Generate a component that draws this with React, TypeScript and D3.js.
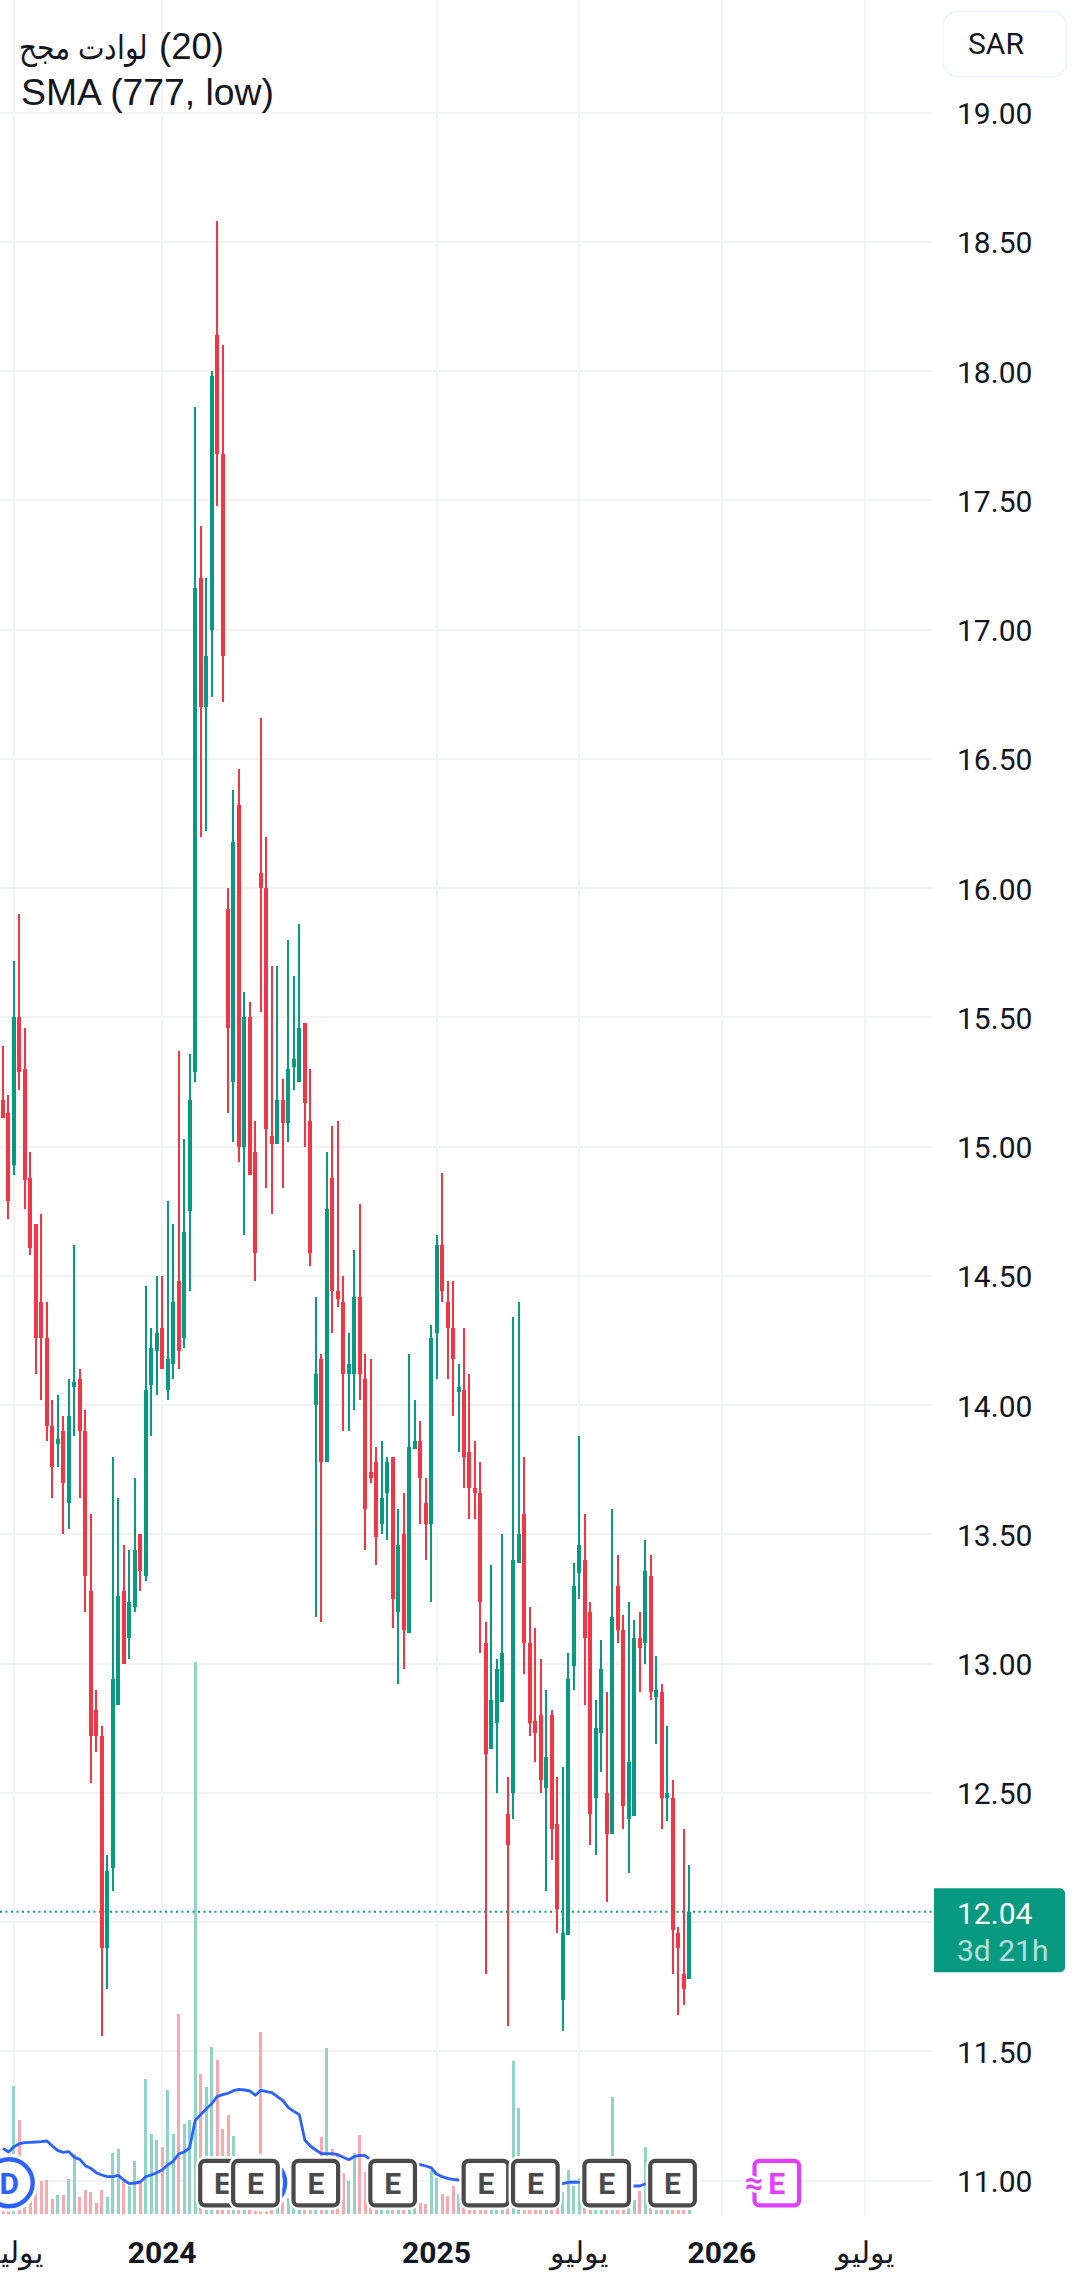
import React from "react";
import * as d3 from "d3";

const opens = [15.18,15.13,14.93,15.50,15.30,14.88,14.70,14.40,14.26,13.92,13.85,13.90,13.62,14.07,14.10,13.90,13.28,12.82,12.72,11.90,12.21,12.84,13.28,13.10,13.22,13.50,13.34,14.08,14.21,14.30,14.06,14.16,14.48,14.26,14.75,15.29,17.20,16.70,17.00,18.14,17.68,15.92,15.25,16.32,15.00,15.50,14.98,16.06,16.00,15.04,15.01,15.18,15.09,15.31,15.25,15.48,15.10,14.00,14.18,13.78,14.88,14.44,14.40,14.12,14.12,14.42,14.10,13.74,13.78,13.54,13.66,13.80,13.20,13.50,13.12,13.83,13.86,13.62,13.54,14.28,14.62,14.40,14.30,14.05,14.06,13.82,13.68,13.66,13.08,12.67,12.77,12.85,12.42,12.50,13.39,13.58,13.08,12.78,12.80,12.52,12.80,12.38,11.70,11.95,12.99,13.35,13.40,13.20,12.48,12.73,12.50,12.34,13.30,13.13,12.40,12.41,13.10,13.08,13.34,12.87,12.89,12.48,12.48,11.96,11.80,11.78];
const highs = [15.39,15.20,15.72,15.90,15.46,14.98,14.70,14.74,14.40,14.02,14.04,13.96,14.10,14.62,14.14,13.98,13.58,12.90,12.76,12.26,13.80,13.64,13.46,13.44,13.72,13.50,14.46,14.30,14.50,14.50,14.79,14.70,15.37,15.03,15.36,17.86,17.40,17.20,18.00,18.58,18.10,16.00,16.38,16.46,15.60,15.56,15.10,16.66,16.20,15.70,15.70,15.26,15.80,15.66,15.86,15.48,15.30,14.42,14.20,14.98,15.08,15.10,14.50,14.28,14.60,14.78,14.20,14.18,13.84,13.86,13.80,13.80,13.60,13.66,14.20,14.02,13.94,13.72,14.31,14.66,14.90,14.48,14.48,14.16,14.30,14.12,13.86,13.78,13.16,13.38,13.02,13.50,12.56,14.34,14.40,13.80,13.22,13.14,13.02,12.90,12.82,12.56,12.60,13.04,13.39,13.88,13.58,13.24,12.86,13.09,12.89,13.60,13.42,13.19,13.24,13.17,13.20,13.48,13.42,13.03,12.92,12.76,12.55,11.98,12.36,12.22];
const lows = [15.11,14.72,14.89,15.22,14.76,14.58,14.12,14.02,13.86,13.64,13.76,13.50,13.52,13.88,13.64,13.20,12.54,12.66,11.56,11.74,12.12,12.84,13.00,13.02,13.20,13.28,13.32,13.88,14.04,14.14,14.02,14.10,14.14,14.22,14.44,15.25,16.20,16.22,16.74,17.48,16.72,15.13,15.02,14.94,14.66,14.89,14.48,15.52,14.84,14.74,15.01,14.84,15.02,15.22,15.25,15.00,14.54,13.18,13.16,13.78,14.28,14.38,13.90,13.90,13.98,14.02,13.44,13.70,13.38,13.50,13.48,13.14,12.92,12.98,13.12,13.83,13.54,13.40,13.24,14.10,14.40,14.10,13.96,13.82,13.68,13.56,13.56,13.04,11.80,12.67,12.50,12.85,11.60,12.40,13.39,12.96,12.72,12.62,12.50,12.12,12.24,11.96,11.58,11.95,12.90,13.25,12.84,12.30,12.26,12.58,12.08,12.34,13.08,12.36,12.19,12.41,12.89,13.00,12.86,12.69,12.36,12.39,11.80,11.64,11.68,11.78];
const closes = [15.11,14.79,15.50,15.29,14.87,14.61,14.26,14.26,13.92,13.76,13.87,13.70,13.96,14.09,13.90,13.34,12.72,12.72,11.90,12.20,12.94,13.26,13.00,13.24,13.44,13.36,14.06,14.22,14.28,14.14,14.18,14.40,14.21,14.67,15.18,17.16,16.70,16.90,17.98,17.68,16.90,15.46,16.18,15.00,15.50,14.89,14.59,16.00,15.07,15.01,15.18,15.09,15.30,15.34,15.46,15.17,14.59,14.12,13.78,14.76,14.44,14.41,14.12,14.16,14.42,14.12,13.60,13.72,13.49,13.64,13.78,13.25,13.46,13.13,13.84,13.86,13.72,13.54,14.26,14.62,14.44,14.30,14.18,14.07,13.80,13.68,13.66,13.24,12.65,12.86,12.98,13.04,12.30,13.40,13.50,13.08,12.77,12.73,12.55,12.64,12.36,12.05,11.96,12.94,13.30,13.46,13.10,12.42,12.75,12.98,12.34,13.18,13.13,12.45,12.62,13.10,13.06,13.36,12.89,12.90,12.48,12.50,11.97,11.90,11.74,12.04];
const volumes = [40,45,384,282,60,70,80,99,102,45,57,57,105,180,51,72,66,33,72,51,183,195,97,84,159,92,405,240,222,201,372,240,600,270,282,1656,420,381,501,462,255,297,234,70,80,60,65,546,80,70,60,52,47,60,55,50,70,65,231,498,195,183,122,99,183,237,126,60,70,50,60,55,65,60,45,40,32,30,132,108,60,54,84,60,60,55,50,70,80,60,50,55,70,459,318,60,50,40,55,45,60,50,66,132,84,108,50,55,40,60,55,351,45,50,60,42,69,201,60,45,50,60,55,45,50,30];
const volumeMA = [197,186,202,211,214,215,216,217,219,204,190,185,187,170,164,145,137,124,117,112,112,116,102,91,93,96,112,117,124,132,147,158,180,186,198,280,298,315,330,352,358,362,370,374,372,369,356,371,367,364,352,340,319,308,298,222,204,192,181,181,181,178,170,163,172,176,175,162,152,150,150,150,150,150,149,149,148,144,139,120,112,107,104,102,102,101,100,100,99,99,98,98,97,96,96,95,94,94,93,92,92,91,91,95,96,95,94,92,90,88,86,85,85,84,84,84,84,90,90,90,90,89,89,88,88,88];

const priceTicks = d3.range(11, 19.01, 0.5);
const hiddenPriceTicks = [12];
const lastPrice = 12.04;
const countdown = "3d 21h";
const currency = "SAR";
const legendVolumeName = "حجم تداول";
const legendVolumeArg = "(20)";
const legendSma = "SMA (777, low)";
const timeLabels = [
  { bar: 2, text: "يوليو", bold: false },
  { bar: 29, text: "2024", bold: true },
  { bar: 79, text: "2025", bold: true },
  { bar: 105, text: "يوليو", bold: false },
  { bar: 131, text: "2026", bold: true },
  { bar: 157, text: "يوليو", bold: false },
];
const dividendBars = [1, 47];
const earningsBars = [40, 46, 57, 71, 88, 97, 110, 122];
const futureEarningsBar = 141;

const GREEN = "#089981";
const RED = "#F23645";
const GRID = "#f2f3f5";
const INK = "#131722";
const BLUE = "#2962FF";
const MARKER = "#4a4a4a";
const MAGENTA = "#E040FB";
const FONT = "Roboto, sans-serif";
const LEGEND_FONT = "'Liberation Sans', Arial, sans-serif";

const W = 1079;
const H = 2289;
const PANE_R = 932;

export default function App() {
  const x = d3.scaleLinear().domain([0, 125]).range([3, 689]);
  const y = d3.scaleLinear().domain([11, 19]).range([2180.7, 112.7]);
  const v = d3.scaleLinear().domain([0, 1656]).range([2214, 1662]);
  const maLine = d3
    .line<number>()
    .x((_, i) => x(i))
    .y((d) => v(d))
    .curve(d3.curveLinear);

  const box = 48.6;
  const markerTop = 2158.8;

  return (
    <svg
      width={W}
      height={H}
      viewBox={`0 0 ${W} ${H}`}
      style={{ position: "absolute", left: 0, top: 0, background: "#fff" }}
    >
      {/* grid */}
      <g shapeRendering="crispEdges">
        {timeLabels.map((t) => (
          <rect key={t.bar} x={Math.round(x(t.bar)) - 1} y={0} width={2} height={2216} fill={GRID} />
        ))}
        {priceTicks.map((p) => (
          <rect key={p} x={0} y={Math.round(y(p)) - 1} width={PANE_R} height={2} fill={GRID} />
        ))}
      </g>

      {/* volume */}
      <g shapeRendering="crispEdges">
        {volumes.map((d, i) => (
          <rect
            key={i}
            x={Math.round(x(i) - 1.5)}
            y={v(d)}
            width={3}
            height={v(0) - v(d)}
            fill={closes[i] >= opens[i] ? "#92d3c9" : "#f7a9ad"}
          />
        ))}
      </g>

      {/* volume moving average */}
      <path d={maLine(volumeMA) ?? ""} fill="none" stroke={BLUE} strokeWidth={2.8} strokeLinejoin="round" />

      {/* last price line */}
      <line
        x1={0}
        x2={PANE_R}
        y1={y(lastPrice)}
        y2={y(lastPrice)}
        stroke={GREEN}
        strokeWidth={2}
        strokeDasharray="2 3.5"
      />

      {/* candles */}
      <g shapeRendering="crispEdges">
        {opens.map((o, i) => {
          const c = closes[i];
          const color = c >= o ? GREEN : RED;
          const cx = Math.round(x(i));
          const top = y(Math.max(o, c));
          const bottom = y(Math.min(o, c));
          return (
            <g key={i} fill={color}>
              <rect x={cx - 1} y={y(highs[i])} width={2} height={y(lows[i]) - y(highs[i])} />
              <rect x={cx - 2} y={top} width={4} height={Math.max(bottom - top, 2)} />
            </g>
          );
        })}
      </g>

      {/* dividend markers */}
      {dividendBars.map((b) => (
        <g key={b}>
          <circle cx={x(b) + 0.7} cy={2182.8} r={24.5} fill="#fff" stroke="#fff" strokeWidth={9} />
          <circle cx={x(b) + 0.7} cy={2182.8} r={23.5} fill="#fff" stroke={BLUE} strokeWidth={4.4} />
          <text
            x={x(b) + 0.7}
            y={2193.5}
            textAnchor="middle"
            fontFamily={FONT}
            fontWeight={700}
            fontSize={30}
            fill={BLUE}
          >
            D
          </text>
        </g>
      ))}

      {/* earnings markers */}
      {earningsBars.map((b) => (
        <g key={b}>
          <rect
            x={x(b) - box / 2 + 2}
            y={markerTop + 2}
            width={box - 4}
            height={box - 4}
            rx={5}
            fill="#fff"
            stroke="#fff"
            strokeWidth={9}
          />
          <rect
            x={x(b) - box / 2 + 2}
            y={markerTop + 2}
            width={box - 4}
            height={box - 4}
            rx={5}
            fill="#fff"
            stroke={MARKER}
            strokeWidth={4.2}
          />
          <text
            x={x(b)}
            y={2193.5}
            textAnchor="middle"
            fontFamily={FONT}
            fontWeight={700}
            fontSize={30}
            fill={MARKER}
          >
            E
          </text>
        </g>
      ))}

      {/* upcoming earnings */}
      <g>
        <rect
          x={x(futureEarningsBar) - box / 2 + 2}
          y={markerTop + 2}
          width={box - 4}
          height={box - 4}
          rx={5}
          fill="#fff"
          stroke={MAGENTA}
          strokeWidth={4.2}
        />
        <text
          x={x(futureEarningsBar)}
          y={2193.5}
          textAnchor="middle"
          fontFamily={FONT}
          fontWeight={700}
          fontSize={30}
          fill={MAGENTA}
        >
          E
        </text>
        <text
          x={x(futureEarningsBar) - 23}
          y={2194}
          textAnchor="middle"
          fontFamily={FONT}
          fontWeight={700}
          fontSize={32}
          fill={MAGENTA}
          stroke="#fff"
          strokeWidth={6}
          paintOrder="stroke"
        >
          ≈
        </text>
      </g>

      {/* price axis */}
      {priceTicks
        .filter((p) => !hiddenPriceTicks.includes(p))
        .map((p) => (
          <text
            key={p}
            x={957}
            y={y(p) + 11.5}
            fontFamily={FONT}
            fontSize={30}
            fill={INK}
          >
            {d3.format(".2f")(p)}
          </text>
        ))}

      {/* last price label */}
      <path
        d="M934 1888.3 H1060 a5 5 0 0 1 5 5 V1967.3 a5 5 0 0 1 -5 5 H934 Z"
        fill={GREEN}
      />
      <text x={957} y={1924} fontFamily={FONT} fontSize={30} fill="#fff">
        {d3.format(".2f")(lastPrice)}
      </text>
      <text x={957} y={1961} fontFamily={FONT} fontSize={30} fill="#fff" fillOpacity={0.7}>
        {countdown}
      </text>

      {/* currency */}
      <rect x={943.5} y={11.5} width={123} height={65} rx={14} fill="#fff" stroke="#f0f3fa" strokeWidth={1.5} />
      <text x={968} y={54} fontFamily={FONT} fontSize={30} fill={INK}>
        {currency}
      </text>

      {/* time axis */}
      {timeLabels.map((t) => (
        <text
          key={t.bar}
          x={x(t.bar)}
          y={2263}
          textAnchor="middle"
          fontFamily={FONT}
          fontSize={30}
          fontWeight={t.bold ? 700 : 400}
          fill={INK}
        >
          {t.text}
        </text>
      ))}

      {/* legend */}
      <text
        x={19}
        y={59}
        fontFamily={LEGEND_FONT}
        fontSize={33}
        fill={INK}
        textLength={129}
        lengthAdjust="spacingAndGlyphs"
        style={{ direction: "ltr", unicodeBidi: "bidi-override" }}
      >
        {legendVolumeName}
      </text>
      <text x={159} y={59} fontFamily={LEGEND_FONT} fontSize={36.5} fill={INK}>
        {legendVolumeArg}
      </text>
      <text x={21} y={105} fontFamily={LEGEND_FONT} fontSize={37.3} fill={INK}>
        {legendSma}
      </text>
    </svg>
  );
}
